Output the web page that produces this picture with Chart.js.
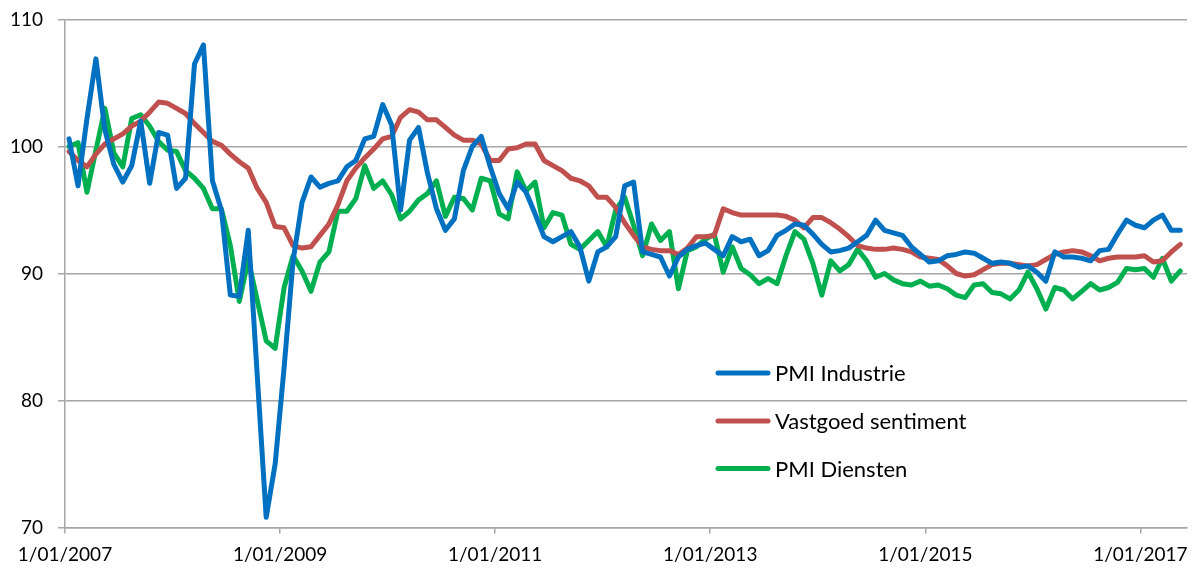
<!DOCTYPE html>
<html>
<head>
<meta charset="utf-8">
<script src="https://cdn.jsdelivr.net/npm/chart.js@4.4.1/dist/chart.umd.min.js"></script>
<style>
  html, body { margin: 0; padding: 0; background: #fff; }
  #wrap { position: relative; width: 1202px; height: 568px; }
</style>
</head>
<body>
<div id="wrap"><canvas id="pmiChart"></canvas></div>
<script>
// Tick labels on the date axis (one every 24 months from Jan 2007)
var tickLabels = ['1/01/2007', '1/01/2009', '1/01/2011', '1/01/2013', '1/01/2015', '1/01/2017'];

// Monthly values, Jan 2007 .. May 2017
var pmiIndustrie = [
    100.6, 96.9, 102.2, 106.9, 101.3, 98.6, 97.2, 98.5, 102.0, 97.1, 101.1, 100.9,
    96.7, 97.5, 106.5, 108.0, 97.3, 95.0, 88.3, 88.2, 93.4, 82.0, 70.8, 75.0,
    82.6, 91.0, 95.6, 97.6, 96.8, 97.1, 97.3, 98.4, 98.9, 100.6, 100.8, 103.3,
    101.7, 95.0, 100.5, 101.5, 97.9, 95.1, 93.4, 94.3, 98.1, 100.0, 100.8, 98.4,
    96.3, 95.1, 97.2, 96.4, 94.7, 92.9, 92.5, 92.9, 93.3, 92.1, 89.4, 91.7,
    92.1, 92.9, 96.9, 97.2, 91.7, 91.5, 91.3, 89.8, 91.3, 91.9, 92.2, 92.4,
    91.9, 91.4, 92.9, 92.5, 92.7, 91.4, 91.8, 93.0, 93.4, 93.9, 93.8, 93.1,
    92.3, 91.7, 91.8, 92.0, 92.5, 93.0, 94.2, 93.4, 93.2, 93.0, 92.1, 91.5,
    90.9, 91.0, 91.4, 91.5, 91.7, 91.6, 91.2, 90.8, 90.9, 90.8, 90.5, 90.6,
    90.1, 89.4, 91.7, 91.3, 91.3, 91.2, 91.0, 91.8, 91.9, 93.1, 94.2, 93.8,
    93.6, 94.2, 94.6, 93.4, 93.4
];
var vastgoedSentiment = [
    99.6, 98.9, 98.4, 99.4, 100.2, 100.6, 101.0, 101.6, 102.0, 102.7, 103.5, 103.4,
    103.0, 102.6, 101.8, 101.1, 100.4, 100.1, 99.4, 98.8, 98.3, 96.7, 95.6, 93.7,
    93.6, 92.2, 92.0, 92.1, 93.0, 93.9, 95.4, 97.3, 98.3, 99.1, 99.8, 100.6,
    100.8, 102.3, 102.9, 102.7, 102.1, 102.1, 101.5, 100.9, 100.5, 100.5, 100.2, 98.9,
    98.9, 99.8, 99.9, 100.2, 100.2, 98.9, 98.5, 98.1, 97.5, 97.3, 96.9, 96.0,
    96.0, 95.2, 94.0, 93.0, 92.1, 91.9, 91.8, 91.8, 91.5, 92.0, 92.9, 92.9,
    93.0, 95.1, 94.8, 94.6, 94.6, 94.6, 94.6, 94.6, 94.5, 94.2, 93.6, 94.4,
    94.4, 94.0, 93.5, 92.9, 92.2, 92.0, 91.9, 91.9, 92.0, 91.9, 91.7, 91.3,
    91.2, 91.1, 90.6, 90.0, 89.8, 89.9, 90.3, 90.7, 90.8, 90.8, 90.7, 90.6,
    90.7, 91.1, 91.5, 91.7, 91.8, 91.7, 91.4, 91.0, 91.2, 91.3, 91.3, 91.3,
    91.4, 90.9, 91.0, 91.7, 92.3
];
var pmiDiensten = [
    100.0, 100.3, 96.4, 99.7, 103.0, 99.5, 98.4, 102.2, 102.5, 101.6, 100.4, 99.7,
    99.6, 98.1, 97.5, 96.7, 95.1, 95.1, 92.2, 87.8, 91.1, 87.9, 84.7, 84.1,
    88.9, 91.4, 90.2, 88.6, 90.9, 91.7, 94.9, 94.9, 95.9, 98.5, 96.7, 97.3,
    96.2, 94.3, 94.9, 95.8, 96.3, 97.3, 94.5, 96.0, 95.9, 95.0, 97.5, 97.3,
    94.7, 94.3, 98.0, 96.5, 97.2, 93.6, 94.8, 94.6, 92.3, 91.9, 92.6, 93.3,
    92.1, 95.0, 96.0, 93.8, 91.4, 93.9, 92.6, 93.3, 88.8, 91.8, 92.1, 92.7,
    93.1, 90.1, 92.1, 90.4, 89.9, 89.2, 89.6, 89.2, 91.4, 93.3, 92.7, 90.8,
    88.3, 91.0, 90.2, 90.7, 91.9, 91.0, 89.7, 90.0, 89.5, 89.2, 89.1, 89.4,
    89.0, 89.1, 88.8, 88.3, 88.1, 89.1, 89.2, 88.5, 88.4, 88.0, 88.7, 90.1,
    88.8, 87.2, 88.9, 88.7, 88.0, 88.6, 89.2, 88.7, 88.9, 89.3, 90.4, 90.3,
    90.4, 89.7, 91.2, 89.4, 90.2
];

// Colors
var blue = '#0070C0';
var red = '#C0504D';
var green = '#00B050';
var axisGray = '#a6a6a6';

// month offset from 1/01/2007 (data dated mid-month)
function toPoints(values) {
    return values.map(function (v, i) { return { x: i + 0.45, y: v }; });
}

function lineSet(label, values, color) {
    return {
        label: label,
        data: toPoints(values),
        borderColor: color,
        backgroundColor: color,
        borderWidth: 5,
        borderJoinStyle: 'round',
        borderCapStyle: 'round',
        pointRadius: 0,
        tension: 0,
        fill: false
    };
}

// Legend drawn inside the plot area, like the Excel original
var insideLegend = {
    id: 'insideLegend',
    afterDatasetsDraw: function (chart) {
        var ctx = chart.ctx;
        var rows = [373, 421, 468.5];
        ctx.save();
        ctx.font = '22px Lato';
        ctx.textBaseline = 'middle';
        ctx.textAlign = 'left';
        chart.data.datasets.forEach(function (ds, k) {
            ctx.strokeStyle = ds.borderColor;
            ctx.lineWidth = 5;
            ctx.lineCap = 'round';
            ctx.beginPath();
            ctx.moveTo(718, rows[k]);
            ctx.lineTo(768, rows[k]);
            ctx.stroke();
            ctx.fillStyle = '#000';
            ctx.fillText(ds.label, 775, rows[k] + 1);
        });
        ctx.restore();
    }
};

Chart.defaults.font.family = 'Lato';
Chart.defaults.color = '#000';

new Chart(document.getElementById('pmiChart').getContext('2d'), {
    type: 'line',
    data: {
        datasets: [
            lineSet('PMI Industrie', pmiIndustrie, blue),
            lineSet('Vastgoed sentiment', vastgoedSentiment, red),
            lineSet('PMI Diensten', pmiDiensten, green)
        ]
    },
    options: {
        responsive: true,
        maintainAspectRatio: false,
        animation: false,
        layout: { padding: { top: 19.5, right: 15, left: 0, bottom: 0 } },
        plugins: {
            legend: { display: false },
            tooltip: { enabled: false }
        },
        scales: {
            x: {
                type: 'linear',
                min: 0,
                max: 125.2,
                afterBuildTicks: function (scale) {
                    scale.ticks = tickLabels.map(function (t, k) { return { value: k * 24 }; });
                },
                afterFit: function (scale) {
                    scale.height = 40.5;
                    scale.paddingLeft = 0;
                    scale.paddingRight = 0;
                },
                grid: { drawOnChartArea: false, drawTicks: true, tickLength: 6, color: axisGray, lineWidth: 1.5 },
                border: { color: axisGray, width: 1.5 },
                ticks: {
                    autoSkip: false,
                    maxRotation: 0,
                    padding: 10,
                    font: { size: 19 },
                    callback: function (value) { return tickLabels[Math.round(value / 24)]; }
                }
            },
            y: {
                min: 70,
                max: 110,
                afterFit: function (scale) {
                    scale.width = 65;
                    scale.paddingTop = 0;
                    scale.paddingBottom = 0;
                },
                grid: { color: axisGray, lineWidth: 1.5, tickLength: 7 },
                border: { color: axisGray, width: 1.5 },
                ticks: { stepSize: 10, padding: 15, font: { size: 19 } }
            }
        }
    },
    plugins: [insideLegend]
});
</script>
</body>
</html>
